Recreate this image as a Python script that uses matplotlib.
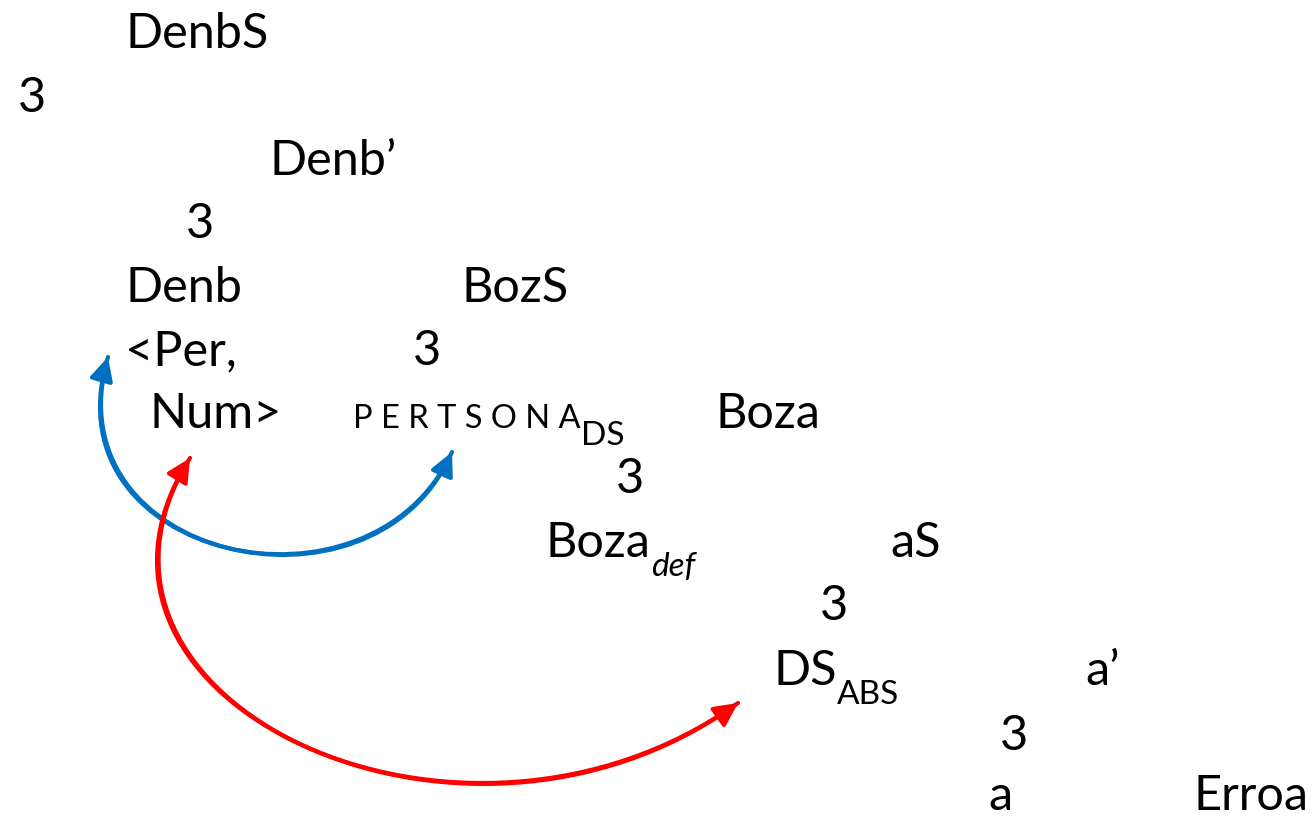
import matplotlib.pyplot as plt
from matplotlib.patches import FancyArrowPatch
from matplotlib.path import Path

plt.rcParams['font.family'] = ['Lato', 'DejaVu Sans']

# nodos del arbol: texto, x izquierda, linea base (pixeles)
etiquetas = ["DenbS", "3", "Denb\u2019", "3", "Denb", "BozS", "<Per,", "3",
             "Num>", "Boza", "3", "aS", "3", "a\u2019", "3", "a", "Erroa"]
pos_x = [125, 18, 270, 186, 125, 462, 125, 413, 150, 716, 616, 890, 820, 1085, 1000, 988, 1193]
pos_y = [48, 112, 175, 238, 302, 302, 365, 365, 428, 428, 493, 557, 620, 685, 750, 810, 810]

# nodos con subindice: base, subindice, estilo, x, y
sub_base = ["P E R T S O N A", "Boza", "DS"]
sub_txt = ["DS", "def", "ABS"]
sub_estilo = ["normal", "italic", "normal"]
sub_x = [353, 546, 773]
sub_y = [428, 557, 685]
sub_tam = [23.5, 35, 35]

# flechas curvas (puntos de control bezier)
flecha_azul = [(108, 357), (50, 560), (370, 630), (452, 452)]
flecha_roja = [(190, 458), (40, 700), (460, 900), (738, 703)]

fig = plt.figure(figsize=(13.12, 8.17), dpi=100)
ax = fig.add_axes([0, 0, 1, 1])
ax.set_xlim(0, 1312)
ax.set_ylim(817, 0)
ax.axis('off')

for t, x, y in zip(etiquetas, pos_x, pos_y):
    ax.text(x, y, t, fontsize=35, ha='left', va='baseline')

for b, s, est, x, y, tam in zip(sub_base, sub_txt, sub_estilo, sub_x, sub_y, sub_tam):
    txt = ax.text(x, y, b, fontsize=tam, ha='left', va='baseline')
    ax.annotate(s, xy=(1, 0), xycoords=txt, xytext=(0, -8), textcoords='offset points',
                fontsize=24, style=est, ha='left', va='baseline')

for puntos, color in [(flecha_azul, '#0070C0'), (flecha_roja, '#FF0000')]:
    # una flecha por cada extremo
    for pts in (puntos, puntos[::-1]):
        camino = Path(pts, [Path.MOVETO, Path.CURVE4, Path.CURVE4, Path.CURVE4])
        ax.add_patch(FancyArrowPatch(path=camino, arrowstyle='-|>,head_length=0.7,head_width=0.35',
                                     color=color, lw=3, mutation_scale=20))

plt.savefig('out.png', dpi=100)
